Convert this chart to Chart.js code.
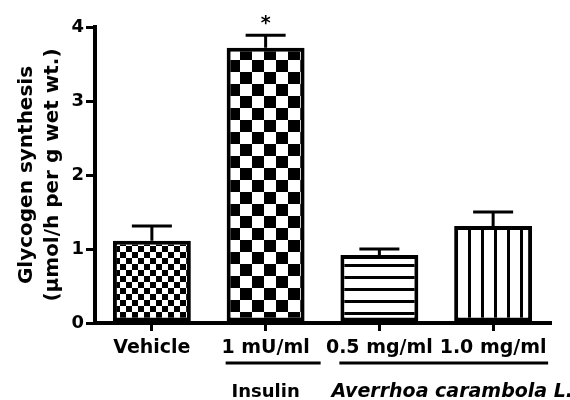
<!DOCTYPE html>
<html>
<head>
<meta charset="utf-8">
<script src="https://cdn.jsdelivr.net/npm/chart.js@4.4.1/dist/chart.umd.min.js"></script>
<style>
  html, body { margin: 0; padding: 0; background: #fff; }
  canvas { display: block; }
</style>
</head>
<body>
<canvas id="c" width="570" height="400"></canvas>
<script>
// ---- data ----
const categories = ['Vehicle', '1 mU/ml', '0.5 mg/ml', '1.0 mg/ml'];
const means = [1.11, 3.72, 0.92, 1.31];
const sems = [0.20, 0.17, 0.08, 0.19];
const significance = ['', '*', '', ''];
const yTicks = [0, 1, 2, 3, 4];
const yTitle = ['Glycogen synthesis', '(\u00b5mol/h per g wet wt.)'];
const groupNames = ['Insulin', 'Averrhoa carambola L.'];
const groupFirst = [1, 2];
const groupLast = [1, 3];

// ---- patterns ----
function checker(size) {
  const c = document.createElement('canvas');
  c.width = size * 2; c.height = size * 2;
  const g = c.getContext('2d');
  g.fillStyle = '#fff'; g.fillRect(0, 0, size * 2, size * 2);
  g.fillStyle = '#000';
  g.fillRect(0, 0, size, size);
  g.fillRect(size, size, size, size);
  return g.createPattern(c, 'repeat');
}
function lines(spacing, width, vertical) {
  const c = document.createElement('canvas');
  c.width = spacing; c.height = spacing;
  const g = c.getContext('2d');
  g.fillStyle = '#fff'; g.fillRect(0, 0, spacing, spacing);
  g.fillStyle = '#000';
  if (vertical) g.fillRect(0, 0, width, spacing);
  else g.fillRect(0, 0, spacing, width);
  return g.createPattern(c, 'repeat');
}
const fills = [checker(6), checker(12), lines(12, 3, false), lines(13, 3, true)];

const FONT = "'DejaVu Sans', sans-serif";

const errorPlugin = {
  id: 'errors',
  afterDatasetsDraw(chart) {
    const ctx = chart.ctx;
    const meta = chart.getDatasetMeta(0);
    const y = chart.scales.y;
    ctx.save();
    ctx.strokeStyle = '#000';
    ctx.lineWidth = 3;
    ctx.lineCap = 'butt';
    meta.data.forEach((bar, i) => {
      const top = y.getPixelForValue(means[i] + sems[i]);
      const base = y.getPixelForValue(means[i]);
      ctx.beginPath();
      ctx.moveTo(bar.x, base);
      ctx.lineTo(bar.x, top);
      ctx.moveTo(bar.x - 20, top);
      ctx.lineTo(bar.x + 20, top);
      ctx.stroke();
      if (significance[i]) {
        ctx.fillStyle = '#000';
        ctx.font = 'bold 19px ' + FONT;
        ctx.textAlign = 'center';
        ctx.textBaseline = 'bottom';
        ctx.fillText(significance[i], bar.x, top - 2);
      }
    });
    ctx.restore();
  }
};

const groupPlugin = {
  id: 'groups',
  afterDraw(chart) {
    const ctx = chart.ctx;
    const x = chart.scales.x;
    ctx.save();
    ctx.strokeStyle = '#000';
    ctx.fillStyle = '#000';
    ctx.lineWidth = 3;
    groupNames.forEach((name, k) => {
      const a = x.getPixelForValue(groupFirst[k]) - 40;
      const b = x.getPixelForValue(groupLast[k]) + 55;
      const lineY = 363;
      ctx.beginPath();
      ctx.moveTo(a, lineY);
      ctx.lineTo(b, lineY);
      ctx.stroke();
      ctx.textBaseline = 'alphabetic';
      if (k === 0) {
        ctx.font = 'bold 18px ' + FONT;
        ctx.textAlign = 'center';
        ctx.fillText(name, x.getPixelForValue(groupFirst[k]), 397);
      } else {
        ctx.font = 'italic bold 19px ' + FONT;
        ctx.textAlign = 'left';
        ctx.fillText(name, a - 8, 397);
      }
    });
    ctx.restore();
  }
};

new Chart(document.getElementById('c'), {
  type: 'bar',
  data: {
    labels: categories,
    datasets: [{
      data: means,
      backgroundColor: fills,
      borderColor: '#000',
      borderWidth: 4,
      borderSkipped: false,
      barPercentage: 0.685,
      categoryPercentage: 1
    }]
  },
  options: {
    responsive: false,
    animation: false,
    events: [],
    layout: { padding: { top: 27, right: 20, left: 0, bottom: 0 } },
    plugins: { legend: { display: false }, tooltip: { enabled: false } },
    scales: {
      x: {
        offset: true,
        grid: { drawOnChartArea: false, drawTicks: true, tickLength: 8, color: '#000', lineWidth: 3, offset: false },
        border: { display: true, color: '#000', width: 4 },
        ticks: { color: '#000', font: { family: FONT, size: 19, weight: 'bold' }, padding: 6, maxRotation: 0, autoSkip: false },
        afterFit(s) { s.height = 77; }
      },
      y: {
        min: 0, max: 4,
        afterBuildTicks(s) { s.ticks = yTicks.map(v => ({ value: v })); },
        grid: { drawOnChartArea: false, drawTicks: true, tickLength: 9, color: '#000', lineWidth: 3 },
        border: { display: true, color: '#000', width: 4 },
        ticks: { color: '#000', font: { family: FONT, size: 18, weight: 'bold' }, padding: 2 },
        title: {
          display: true,
          text: yTitle,
          color: '#000',
          font: { family: FONT, size: 20, weight: 'bold', lineHeight: 1.3 },
          padding: { top: 14, bottom: 0 }
        },
        afterFit(s) { s.width = 95; }
      }
    }
  },
  plugins: [errorPlugin, groupPlugin]
});
</script>
</body>
</html>
